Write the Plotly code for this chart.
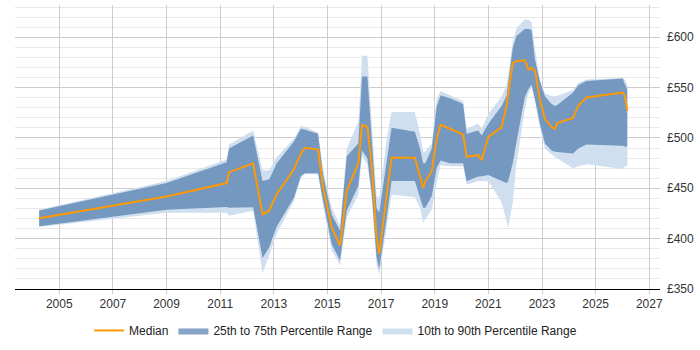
import plotly.graph_objects as go

years = [2004.25, 2009.0, 2011.24, 2011.33, 2012.23, 2012.58, 2012.83, 2013.11, 2013.75, 2014.01,
         2014.16, 2014.65, 2014.84, 2015.16, 2015.47, 2015.72, 2016.15, 2016.29, 2016.49, 2016.65,
         2016.83, 2016.93, 2017.21, 2017.39, 2018.26, 2018.45, 2018.57, 2018.65, 2018.89, 2019.07,
         2019.22, 2019.57, 2020.06, 2020.19, 2020.62, 2020.75, 2021.0, 2021.5, 2021.68, 2021.74,
         2021.91, 2022.05, 2022.36, 2022.49, 2022.61, 2022.74, 2022.92, 2023.11, 2023.36, 2023.48,
         2023.57, 2024.16, 2024.35, 2024.66, 2026.01, 2026.09, 2026.18]

median = [420.2, 441.8, 455.2, 466.0, 474.8, 424.1, 428.0, 444.4, 468.9, 484.6,
          490.2, 488.5, 450.3, 411.1, 393.1, 447.4, 474.8, 513.0, 510.8, 473.1,
          401.3, 384.9, 443.7, 480.4, 480.4, 463.3, 450.3, 457.2, 466.7, 499.3,
          513.0, 509.1, 503.2, 481.4, 482.9, 478.0, 501.0, 510.8, 532.0, 543.4,
          574.5, 576.1, 577.1, 567.9, 569.6, 566.3, 538.5, 518.9, 510.8, 509.1,
          514.7, 519.9, 532.0, 540.2, 545.1, 541.8, 527.1]

p25 = [412.4, 428.7, 431.4, 430.7, 431.2, 380.7, 391.5, 412.1, 440.5, 462.1,
       465.0, 465.0, 437.5, 394.4, 378.4, 427.7, 452.3, 487.5, 479.7, 445.4,
       381.7, 369.9, 420.9, 457.2, 457.2, 440.5, 430.7, 430.7, 442.4, 469.9,
       477.7, 474.8, 474.8, 456.9, 461.8, 462.0, 463.3, 457.2, 455.2, 457.2,
       474.8, 496.4, 540.5, 548.3, 553.1, 538.5, 514.0, 494.4, 487.5, 486.3,
       486.1, 484.6, 489.5, 493.4, 492.2, 491.5, 491.5]

p75 = [428.0, 455.2, 475.8, 489.5, 502.3, 457.2, 459.1, 474.8, 496.4, 509.1,
       508.1, 504.2, 463.0, 423.8, 408.1, 481.7, 494.4, 561.1, 561.1, 499.3,
       430.7, 425.8, 479.7, 510.1, 506.2, 489.5, 474.8, 474.8, 489.5, 530.7,
       542.5, 539.5, 533.6, 504.2, 507.5, 502.5, 514.0, 532.0, 541.8, 553.2,
       589.5, 601.3, 608.1, 608.1, 607.2, 577.7, 556.2, 541.5, 533.6, 531.7,
       532.6, 545.1, 552.3, 556.5, 559.1, 553.2, 548.3]

p10 = [411.6, 425.8, 425.8, 422.8, 427.7, 366.0, 383.6, 405.2, 437.5, 460.1,
       464.0, 464.0, 432.6, 388.5, 373.5, 420.9, 443.4, 482.6, 472.8, 440.5,
       373.8, 363.7, 411.1, 443.7, 441.2, 430.7, 416.0, 418.9, 428.7, 455.2,
       472.8, 471.9, 471.9, 453.5, 457.2, 457.2, 456.9, 435.6, 418.9, 411.1,
       435.6, 474.8, 528.7, 543.4, 550.3, 535.6, 511.1, 489.5, 483.6, 481.7,
       479.7, 469.9, 471.9, 473.8, 469.2, 471.6, 471.9]

p90 = [428.7, 457.2, 478.7, 493.4, 507.5, 468.0, 468.0, 480.7, 499.3, 512.1,
       511.1, 505.2, 468.0, 430.7, 413.0, 489.5, 516.0, 581.7, 581.7, 518.9,
       442.4, 440.5, 499.3, 525.8, 525.8, 504.2, 486.6, 486.6, 494.4, 538.5,
       546.7, 542.5, 536.6, 509.1, 514.0, 509.1, 523.8, 541.5, 553.2, 563.0,
       595.4, 609.1, 617.9, 617.0, 615.3, 587.5, 558.1, 544.4, 541.5, 541.5,
       542.0, 547.6, 554.9, 558.1, 559.5, 558.1, 553.2]

x_ticks = list(range(2005, 2028, 2))
y_ticks = [350, 400, 450, 500, 550, 600]

LIGHT = "rgb(208,223,239)"
DARK = "rgba(68,114,168,0.65)"
ORANGE = "#FF9900"

fig = go.Figure()
# 10th-90th band
fig.add_trace(go.Scatter(x=years, y=p10, mode="lines", line=dict(width=0, color=LIGHT),
                         showlegend=False, hoverinfo="skip"))
fig.add_trace(go.Scatter(x=years, y=p90, mode="lines", line=dict(width=0, color=LIGHT),
                         fill="tonexty", fillcolor=LIGHT, name="10th to 90th Percentile Range",
                         legendrank=3))
# 25th-75th band
fig.add_trace(go.Scatter(x=years, y=p25, mode="lines", line=dict(width=0, color=DARK),
                         showlegend=False, hoverinfo="skip"))
fig.add_trace(go.Scatter(x=years, y=p75, mode="lines", line=dict(width=0, color=DARK),
                         fill="tonexty", fillcolor=DARK, name="25th to 75th Percentile Range",
                         legendrank=2))
# Median
fig.add_trace(go.Scatter(x=years, y=median, mode="lines", line=dict(width=2, color=ORANGE),
                         name="Median", legendrank=1))

fig.update_layout(
    width=700, height=350,
    margin=dict(l=15, r=40, t=5, b=58),
    paper_bgcolor="white", plot_bgcolor="white",
    font=dict(family="Liberation Sans, Arial, sans-serif", size=12, color="#333"),
    legend=dict(orientation="h", x=0.497, xanchor="center", y=-0.146, yanchor="middle",
                font=dict(size=12, color="#222"), itemwidth=30, traceorder="normal"),
    xaxis=dict(range=[2003.35, 2027.4], tickvals=x_ticks, ticktext=[str(v) for v in x_ticks],
               showgrid=True, gridcolor="#cccccc", gridwidth=1, zeroline=False,
               showline=True, linecolor="#000", linewidth=1,
               ticks="outside", ticklen=4, tickcolor="#cccccc",
               tickfont=dict(size=12, color="#333")),
    yaxis=dict(range=[350, 632], side="right", tickvals=y_ticks,
               ticktext=["£" + str(v) for v in y_ticks],
               showgrid=True, gridcolor="#cccccc", gridwidth=1, zeroline=False,
               showline=False, ticks="", ticklabelstandoff=6,
               tickfont=dict(size=12, color="#333"),
               minor=dict(dtick=10, tick0=350, showgrid=True, gridcolor="#e8e8e8", gridwidth=1)),
)

fig.write_html("out.html")
